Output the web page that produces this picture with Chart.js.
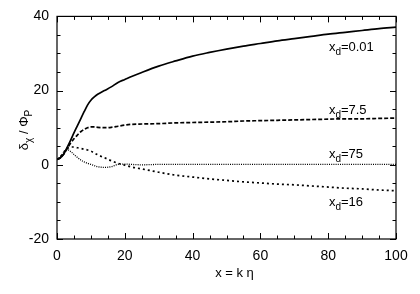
<!DOCTYPE html>
<html>
<head>
<meta charset="utf-8">
<script src="https://cdn.jsdelivr.net/npm/chart.js@4/dist/chart.umd.min.js"></script>
<style>
html,body{margin:0;padding:0;background:#fff;}
#wrap{width:420px;height:294px;}
</style>
</head>
<body>
<div id="wrap"><canvas id="c" width="420" height="294"></canvas></div>
<script>
const xValues = [0,1,2,3,4,5,6,7,8,9,10,11,12,14,16,18,20,22,25,30,35,40,45,50,55,60,65,70,75,80,85,90,95,100];
const series001 = [1.4,1.9,2.9,4.7,6.6,8.6,10.5,12.4,14.3,16.1,17.4,18.3,19.0,20.0,21.0,22.2,23.0,23.8,24.9,26.6,28.0,29.3,30.3,31.2,32.0,32.7,33.4,34.0,34.6,35.2,35.7,36.2,36.7,37.1];
const series75b = [1.4,1.9,2.9,4.4,5.8,7.0,8.0,8.9,9.5,10.0,10.2,10.2,10.1,10.0,10.1,10.4,10.7,10.9,11.0,11.1,11.3,11.4,11.5,11.6,11.8,11.9,12.0,12.1,12.2,12.3,12.4,12.4,12.5,12.6];
const series16 = [1.4,2.2,3.4,4.4,4.8,4.8,4.6,4.4,4.2,4.0,3.7,3.2,2.7,1.9,1.1,0.4,-0.1,-0.6,-1.1,-2.0,-2.8,-3.3,-3.8,-4.2,-4.6,-4.9,-5.2,-5.4,-5.7,-6.0,-6.3,-6.5,-6.8,-7.0];
const series75 = [1.4,2.2,3.3,4.1,3.6,2.8,2.0,1.3,0.8,0.4,0.1,-0.2,-0.5,-0.7,-0.5,0.1,0.2,0.1,0.0,0.1,0.1,0.1,0.1,0.1,0.1,0.1,0.1,0.1,0.1,0.1,0.1,0.1,0.1,0.1];
const xTicks = [0,20,40,60,80,100];
const yTicks = [-20,0,20,40];
const curveLabels = [
  {sub:'d', rest:'=0.01', x:80.2, y:30.8},
  {sub:'d', rest:'=7.5', x:80.2, y:13.8},
  {sub:'d', rest:'=75', x:80.2, y:1.9},
  {sub:'d', rest:'=16', x:80.2, y:-11.2}
];

const FONT = '"Liberation Sans", Arial, Helvetica, sans-serif';
const toPts = ys => xValues.map((x,i)=>({x:x,y:ys[i]}));

function drawSubText(ctx, x, y, parts){
  let cx = x;
  for(const p of parts){
    ctx.font = p.sub ? '10px '+FONT : '13px '+FONT;
    ctx.fillText(p.t, cx, p.sub ? y+4 : y);
    cx += ctx.measureText(p.t).width;
  }
  return cx - x;
}
function measureParts(ctx, parts){
  let w=0;
  for(const p of parts){ctx.font = p.sub ? '10px '+FONT : '13px '+FONT; w+=ctx.measureText(p.t).width;}
  return w;
}

const decor = {
  id:'decor',
  afterDraw(chart){
    const ctx = chart.ctx, a = chart.chartArea;
    const xs = chart.scales.x, ys = chart.scales.y;
    ctx.save();
    ctx.strokeStyle='#000'; ctx.lineWidth=1.2;
    ctx.strokeRect(a.left, a.top, a.right-a.left, a.bottom-a.top);
    ctx.lineWidth=1;
    ctx.beginPath();
    for(let v=0; v<=100; v+=5){
      const px = Math.round(xs.getPixelForValue(v))+0.5;
      const L = (v%20===0)?6:3.5;
      ctx.moveTo(px,a.bottom); ctx.lineTo(px,a.bottom-L);
      ctx.moveTo(px,a.top); ctx.lineTo(px,a.top+L);
    }
    for(let v=-20; v<=40; v+=5){
      const py = Math.round(ys.getPixelForValue(v))+0.5;
      const L = (v%20===0)?6:3.5;
      ctx.moveTo(a.left,py); ctx.lineTo(a.left+L,py);
      ctx.moveTo(a.right,py); ctx.lineTo(a.right-L,py);
    }
    ctx.stroke();
    ctx.fillStyle='#000';
    ctx.textBaseline='alphabetic'; ctx.textAlign='left';
    for(const l of curveLabels){
      const px = xs.getPixelForValue(l.x), py = ys.getPixelForValue(l.y);
      drawSubText(ctx, px, py, [{t:'x'},{t:l.sub,sub:true},{t:l.rest}]);
    }
    const xt = [{t:'x = k η'}];
    const wx = measureParts(ctx, xt);
    drawSubText(ctx, 234.5 - wx/2, 277, xt);
    const yt = [{t:'δ'},{t:'χ',sub:true},{t:' / Φ'},{t:'P',sub:true}];
    const wy = measureParts(ctx, yt);
    ctx.translate(27.5, 130);
    ctx.rotate(-Math.PI/2);
    drawSubText(ctx, -wy/2, 0, yt);
    ctx.restore();
  }
};

new Chart(document.getElementById('c'), {
  type:'line',
  data:{datasets:[
    {data:toPts(series001), borderColor:'#000', borderWidth:1.7, pointRadius:0, cubicInterpolationMode:'monotone'},
    {data:toPts(series75b), borderColor:'#000', borderWidth:1.7, borderDash:[4,2], pointRadius:0, cubicInterpolationMode:'monotone'},
    {data:toPts(series16), borderColor:'#000', borderWidth:1.7, borderDash:[2,3], pointRadius:0, cubicInterpolationMode:'monotone'},
    {data:toPts(series75), borderColor:'#000', borderWidth:1.3, borderDash:[1,1.2], pointRadius:0, cubicInterpolationMode:'monotone'}
  ]},
  options:{
    responsive:false, animation:false, devicePixelRatio:1,
    layout:{padding:{left:0,top:16,right:24,bottom:0}},
    plugins:{legend:{display:false}, tooltip:{enabled:false}},
    scales:{
      x:{type:'linear', min:0, max:100,
        afterBuildTicks(s){ s.ticks = xTicks.map(v=>({value:v})); },
        afterFit(s){ s.height = 55; },
        grid:{display:false, drawTicks:false}, border:{display:false},
        ticks:{color:'#000', padding:9, font:{family:FONT, size:14}, maxRotation:0}
      },
      y:{type:'linear', min:-20, max:40,
        afterBuildTicks(s){ s.ticks = yTicks.map(v=>({value:v})); },
        afterFit(s){ s.width = 57; },
        grid:{display:false, drawTicks:false}, border:{display:false},
        ticks:{color:'#000', padding:8, font:{family:FONT, size:14}}
      }
    }
  },
  plugins:[decor]
});
</script>
</body>
</html>
